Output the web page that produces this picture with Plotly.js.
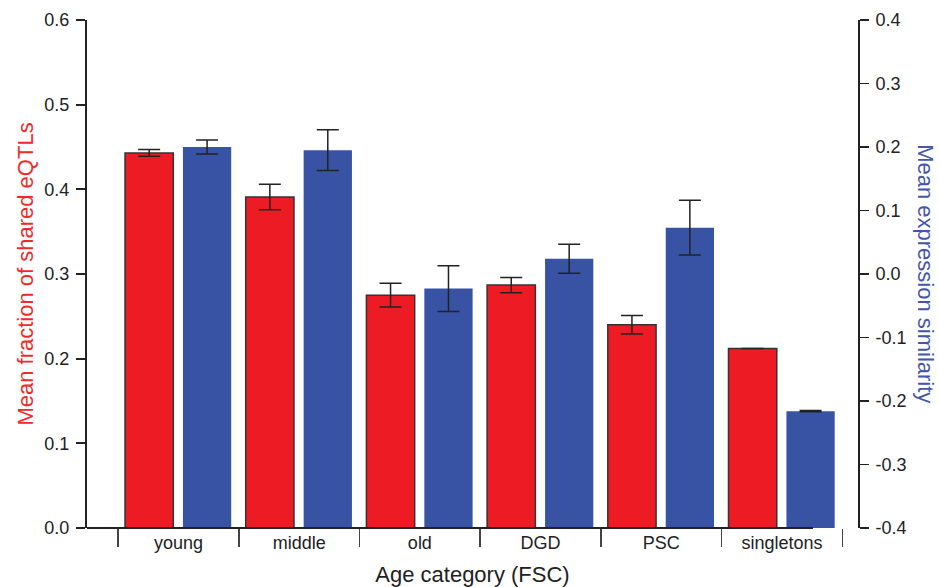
<!DOCTYPE html>
<html><head><meta charset="utf-8">
<script src="https://cdn.plot.ly/plotly-3.0.1.min.js"></script>
<style>html,body{margin:0;padding:0;background:#fff}#chart{width:939px;height:587px}</style>
</head><body><div id="chart"></div>
<script>
// ---- data ----
const categories = ['young', 'middle', 'old', 'DGD', 'PSC', 'singletons'];
const sharedEqtl = [0.443, 0.391, 0.275, 0.287, 0.240, 0.212];
const sharedEqtlErr = [0.004, 0.015, 0.014, 0.009, 0.011, 0];
const exprSim = [0.200, 0.195, -0.023, 0.024, 0.073, -0.216];
const exprSimErr = [0.011, 0.032, 0.036, 0.023, 0.043, 0.001];
const leftTicks = [0, 0.1, 0.2, 0.3, 0.4, 0.5, 0.6];
const rightTicks = [-0.4, -0.3, -0.2, -0.1, 0, 0.1, 0.2, 0.3, 0.4];
const simBase = -0.4;

// ---- style ----
const FONT = 'Liberation Sans, Arial, Helvetica, sans-serif';
const RED = '#ED1C24';
const BLUE = '#3953A4';
const INK = '#222222';

const fmt = v => v.toFixed(1);

const traces = [
  {
    type: 'bar', name: 'shared eQTLs',
    x: categories, y: sharedEqtl,
    xaxis: 'x', yaxis: 'y',
    width: 0.40, offset: -0.443,
    marker: {color: RED, line: {color: '#333333', width: 1.5}},
    error_y: {type: 'data', array: sharedEqtlErr, visible: true, color: INK, thickness: 1.5, width: 11},
    hoverinfo: 'x+y'
  },
  {
    type: 'bar', name: 'expression similarity',
    x: categories, y: exprSim.map(v => v - simBase), base: simBase,
    xaxis: 'x', yaxis: 'y2',
    width: 0.40, offset: 0.037,
    marker: {color: BLUE, line: {width: 0}},
    error_y: {type: 'data', array: exprSimErr, visible: true, color: INK, thickness: 1.5, width: 11},
    hoverinfo: 'x'
  }
];

const layout = {
  width: 939, height: 587,
  margin: {l: 87, r: 81, t: 20, b: 59, pad: 0},
  paper_bgcolor: '#ffffff', plot_bgcolor: '#ffffff',
  font: {family: FONT, color: INK, size: 18},
  showlegend: false,
  barmode: 'overlay',
  xaxis: {
    type: 'category',
    range: [-0.758, 5.63],
    tickson: 'boundaries',
    ticks: 'outside', ticklen: 18, tickwidth: 1.5, tickcolor: '#444444',
    ticklabelstandoff: 2,
    showline: false, showgrid: false, zeroline: false,
    tickfont: {family: FONT, size: 18, color: INK},
    title: {text: 'Age category (FSC)', font: {family: FONT, size: 22, color: INK}, standoff: 15}
  },
  yaxis: {
    range: [0, 0.6],
    tickmode: 'array', tickvals: leftTicks, ticktext: leftTicks.map(fmt),
    ticks: 'outside', ticklen: 9, tickwidth: 1.8, tickcolor: INK,
    ticklabelstandoff: 3,
    showline: true, linewidth: 2, linecolor: INK,
    showgrid: false, zeroline: false,
    tickfont: {family: FONT, size: 18, color: INK},
    title: {text: 'Mean fraction of shared eQTLs', font: {family: FONT, size: 22, color: '#F02A2A'}, standoff: 5}
  },
  yaxis2: {
    overlaying: 'y', side: 'right',
    range: [-0.4, 0.4],
    tickmode: 'array', tickvals: rightTicks, ticktext: rightTicks.map(fmt),
    ticks: 'outside', ticklen: 9, tickwidth: 1.8, tickcolor: INK,
    ticklabelstandoff: 3,
    showline: true, linewidth: 2, linecolor: INK,
    showgrid: false, zeroline: false,
    tickfont: {family: FONT, size: 18, color: INK}
  },
  shapes: [
    {type: 'line', xref: 'paper', yref: 'paper', x0: 0, x1: 0.9416, y0: 0, y1: 0,
     line: {color: INK, width: 2}, layer: 'above'}
  ],
  annotations: [
    {text: 'Mean expression similarity', xref: 'paper', yref: 'paper', x: 1.088, y: 0.5,
     xanchor: 'center', yanchor: 'middle', showarrow: false, textangle: 90,
     font: {family: FONT, size: 22, color: '#4455AA'}}
  ]
};

Plotly.newPlot('chart', traces, layout, {displayModeBar: false, staticPlot: true});
</script>
</body></html>
